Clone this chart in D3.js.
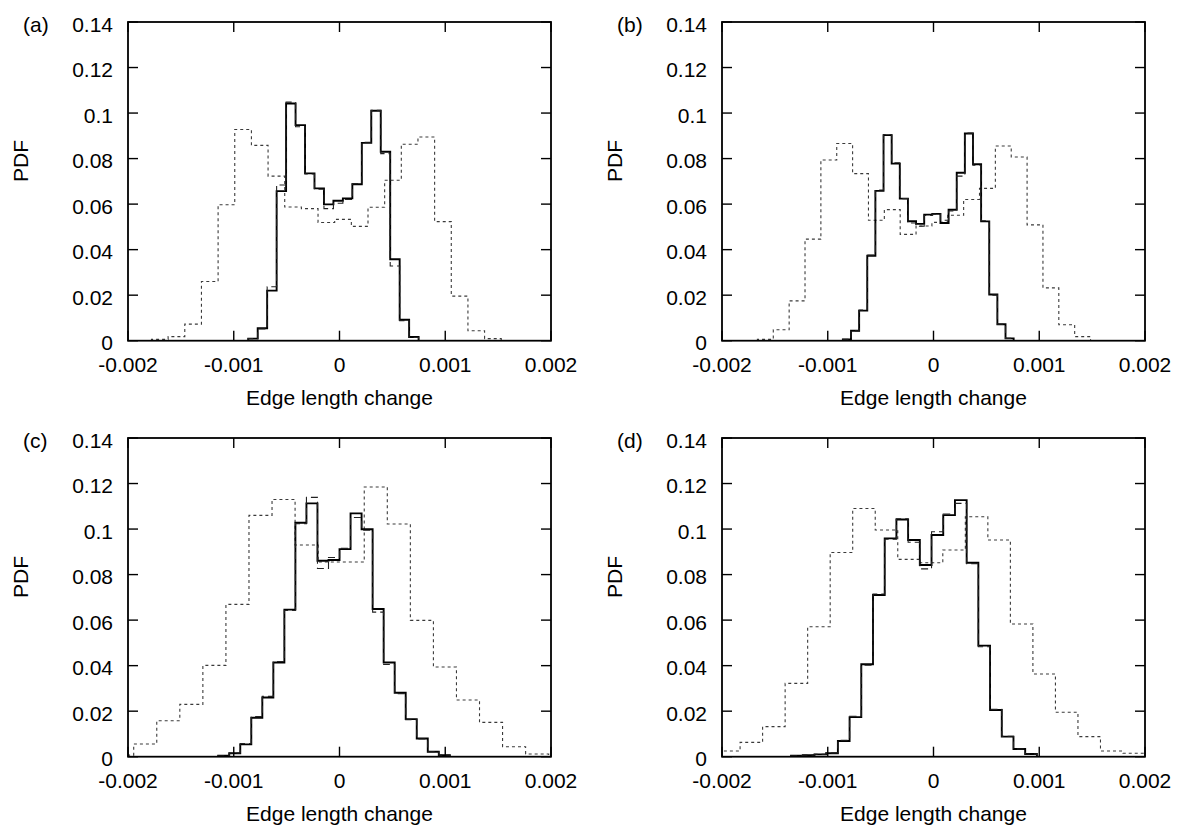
<!DOCTYPE html>
<html><head><meta charset="utf-8">
<script src="https://cdn.jsdelivr.net/npm/d3@7"></script>
<style>
body{margin:0;background:#fff}
svg{display:block}
text{font-family:"Liberation Sans",Arial,Helvetica,sans-serif;font-size:21px;fill:#000}
</style>
</head><body><svg id="chart" width="1180" height="825"></svg>
<script>
// ---------- data ----------
const panelLabels = ["(a)", "(b)", "(c)", "(d)"];
const xTicks = [-0.002, -0.001, 0, 0.001, 0.002];
const xTickLabels = ["-0.002", "-0.001", "0", "0.001", "0.002"];
const yTicks = [0, 0.02, 0.04, 0.06, 0.08, 0.1, 0.12, 0.14];
const yTickLabels = ["0", "0.02", "0.04", "0.06", "0.08", "0.1", "0.12", "0.14"];
const xTitle = "Edge length change";
const yTitle = "PDF";

// panel (a)
const wideStartA = -0.001778, wideWidthA = 0.0001575;
const wideA = [0.0006, 0.0018, 0.0073, 0.026, 0.0597, 0.0928, 0.0858, 0.0723, 0.0587, 0.058, 0.0519, 0.0533, 0.0502, 0.0586, 0.0705, 0.0863, 0.0895, 0.0523, 0.0196, 0.0044, 0.0009];
const narrowStartA = -0.000863, narrowWidthA = 0.0000895;
const solidA = [0.0009, 0.0055, 0.022, 0.0657, 0.1042, 0.0947, 0.0735, 0.0669, 0.0599, 0.0615, 0.0625, 0.0687, 0.0869, 0.101, 0.083, 0.0358, 0.0092, 0.0016];
const dashA = [0.0009, 0.0052, 0.0237, 0.0684, 0.1048, 0.094, 0.0732, 0.0665, 0.058, 0.0604, 0.062, 0.069, 0.0872, 0.1012, 0.0822, 0.0328, 0.0088, 0.0014];

// panel (b)
const wideStartB = -0.001665, wideWidthB = 0.00015;
const wideB = [0.0006, 0.0048, 0.0175, 0.0446, 0.0794, 0.0866, 0.0734, 0.0529, 0.0576, 0.0467, 0.0504, 0.052, 0.0551, 0.062, 0.0669, 0.0855, 0.0807, 0.0509, 0.0232, 0.007, 0.0018];
const narrowStartB = -0.000857, narrowWidthB = 0.0000769;
const solidB = [0.0006, 0.0044, 0.0132, 0.0373, 0.0658, 0.0903, 0.0778, 0.0624, 0.0525, 0.0513, 0.0554, 0.0557, 0.0517, 0.0575, 0.0738, 0.091, 0.0775, 0.0524, 0.0203, 0.0072, 0.001];
const dashB = [0.0006, 0.0043, 0.0135, 0.0376, 0.0662, 0.0906, 0.0782, 0.0624, 0.0517, 0.0503, 0.055, 0.0556, 0.0529, 0.057, 0.0723, 0.0912, 0.0771, 0.0527, 0.02, 0.0072, 0.001];

// panel (c)
const wideStartC = -0.002164, wideWidthC = 0.000218;
const wideC = [0.0007, 0.0056, 0.0158, 0.023, 0.0401, 0.0669, 0.106, 0.113, 0.093, 0.0855, 0.0855, 0.1185, 0.1022, 0.0599, 0.0394, 0.0249, 0.0151, 0.0044, 0.0012];
const narrowStartC = -0.001147, narrowWidthC = 0.0001043;
const solidC = [0.0004, 0.0015, 0.0054, 0.0171, 0.026, 0.0414, 0.0646, 0.1028, 0.1113, 0.0861, 0.0864, 0.0912, 0.1069, 0.0999, 0.0649, 0.0414, 0.0281, 0.0165, 0.008, 0.0022, 0.0007];
const dashC = [0.0004, 0.0016, 0.0058, 0.0176, 0.0265, 0.0418, 0.0642, 0.1024, 0.1139, 0.0827, 0.0875, 0.0915, 0.1051, 0.0995, 0.0635, 0.0405, 0.0277, 0.0162, 0.0078, 0.0022, 0.0007];

// panel (d)
const wideStartD = -0.002042, wideWidthD = 0.000213;
const wideD = [0.0025, 0.0063, 0.0132, 0.0322, 0.0571, 0.0897, 0.109, 0.0996, 0.0867, 0.0852, 0.0908, 0.1054, 0.0952, 0.0583, 0.0363, 0.0195, 0.0088, 0.0025, 0.0015];
const narrowStartD = -0.001347, narrowWidthD = 0.0001107;
const solidD = [0.0004, 0.0007, 0.001, 0.0015, 0.0069, 0.0174, 0.0406, 0.071, 0.0959, 0.1042, 0.0952, 0.0842, 0.0974, 0.1061, 0.1127, 0.0852, 0.0488, 0.0205, 0.0088, 0.0034, 0.0012];
const dashD = [0.0004, 0.0007, 0.0011, 0.0017, 0.0072, 0.0178, 0.0402, 0.0715, 0.0955, 0.1045, 0.0942, 0.0825, 0.0988, 0.1066, 0.1113, 0.0848, 0.0483, 0.0208, 0.009, 0.0034, 0.0012];

// ---------- layout ----------
const plotW = 423, plotH = 318.7;
const panels = [
  {label: panelLabels[0], left: 128, top: 22,  wide: [wideStartA, wideWidthA, wideA], solid: [narrowStartA, narrowWidthA, solidA], dash: [narrowStartA, narrowWidthA, dashA]},
  {label: panelLabels[1], left: 722, top: 22,  wide: [wideStartB, wideWidthB, wideB], solid: [narrowStartB, narrowWidthB, solidB], dash: [narrowStartB, narrowWidthB, dashB]},
  {label: panelLabels[2], left: 128, top: 438, wide: [wideStartC, wideWidthC, wideC], solid: [narrowStartC, narrowWidthC, solidC], dash: [narrowStartC, narrowWidthC, dashC]},
  {label: panelLabels[3], left: 722, top: 438, wide: [wideStartD, wideWidthD, wideD], solid: [narrowStartD, narrowWidthD, solidD], dash: [narrowStartD, narrowWidthD, dashD]}
];

function stepPoints(start, width, values) {
  const pts = [[start, 0]];
  values.forEach((v, i) => {
    const x0 = start + i * width, x1 = x0 + width;
    pts.push([x0, v], [x1, v]);
  });
  pts.push([start + values.length * width, 0]);
  return pts;
}

const svg = d3.select("#chart");

panels.forEach((p, idx) => {
  const x = d3.scaleLinear().domain([-0.002, 0.002]).range([p.left, p.left + plotW]);
  const y = d3.scaleLinear().domain([0, 0.14]).range([p.top + plotH, p.top]);
  const g = svg.append("g");
  const clipId = "clip" + idx;
  svg.append("clipPath").attr("id", clipId).append("rect")
    .attr("x", p.left).attr("y", p.top).attr("width", plotW).attr("height", plotH);

  const line = d3.line().x(d => x(d[0])).y(d => y(d[1]));
  const data = g.append("g").attr("clip-path", `url(#${clipId})`);

  data.append("path").attr("d", line(stepPoints(...p.wide)))
    .attr("fill", "none").attr("stroke", "#3a3a3a").attr("stroke-width", 1.1)
    .attr("stroke-dasharray", "3,3");
  data.append("path").attr("d", line(stepPoints(...p.solid)))
    .attr("fill", "none").attr("stroke", "#000").attr("stroke-width", 1.9);
  data.append("path").attr("d", line(stepPoints(...p.dash)))
    .attr("fill", "none").attr("stroke", "#222").attr("stroke-width", 1.1)
    .attr("stroke-dasharray", "7,4");

  // ticks (inside, mirrored)
  const tl = 10;
  yTicks.forEach(t => {
    g.append("line").attr("x1", p.left).attr("x2", p.left + tl).attr("y1", y(t)).attr("y2", y(t))
      .attr("stroke", "#000").attr("stroke-width", 1.4);
    g.append("line").attr("x1", p.left + plotW).attr("x2", p.left + plotW - tl).attr("y1", y(t)).attr("y2", y(t))
      .attr("stroke", "#000").attr("stroke-width", 1.4);
  });
  xTicks.forEach(t => {
    g.append("line").attr("x1", x(t)).attr("x2", x(t)).attr("y1", p.top + plotH).attr("y2", p.top + plotH - tl)
      .attr("stroke", "#000").attr("stroke-width", 1.4);
    g.append("line").attr("x1", x(t)).attr("x2", x(t)).attr("y1", p.top).attr("y2", p.top + tl)
      .attr("stroke", "#000").attr("stroke-width", 1.4);
  });

  // frame
  g.append("rect").attr("x", p.left).attr("y", p.top).attr("width", plotW).attr("height", plotH)
    .attr("fill", "none").attr("stroke", "#000").attr("stroke-width", 1.8);

  // tick labels
  yTicks.forEach((t, i) => {
    g.append("text").attr("x", p.left - 15).attr("y", y(t) + 9.5)
      .attr("text-anchor", "end").text(yTickLabels[i]);
  });
  xTicks.forEach((t, i) => {
    g.append("text").attr("x", x(t)).attr("y", p.top + plotH + 31)
      .attr("text-anchor", "middle").text(xTickLabels[i]);
  });

  // titles
  g.append("text").attr("x", p.left + plotW / 2).attr("y", p.top + plotH + 64)
    .attr("text-anchor", "middle").text(xTitle);
  g.append("text").attr("transform", `translate(${p.left - 100},${p.top + 139}) rotate(-90)`)
    .attr("text-anchor", "middle").text(yTitle);
  g.append("text").attr("x", p.left - 105).attr("y", p.top + 9.5).text(p.label);
});
</script></body></html>
